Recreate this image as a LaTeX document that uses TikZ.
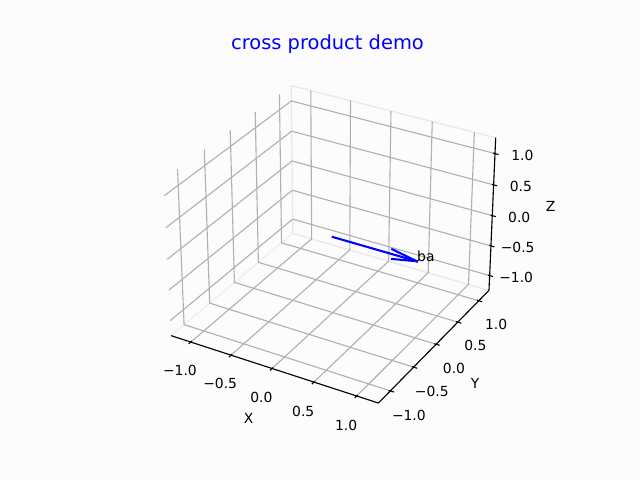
\documentclass[tikz,border=0pt]{standalone}
\usepackage{fontspec}
\setmainfont{DejaVu Sans}
\pgfkeys{/mpl/.cd, x/.store in=\mplx, y/.store in=\mply, z/.store in=\mplz}
\tikzdeclarecoordinatesystem{m}{%
  \pgfkeys{/mpl/.cd,x=0,y=0,z=0,#1}%
  \pgfmathsetmacro\mdx{(\mplx)*0.457143}%
  \pgfmathsetmacro\mdy{(\mply)*0.457143}%
  \pgfmathsetmacro\mdz{(\mplz)*0.342857}%
  \pgfmathsetmacro\mden{10-(0.433013*\mdx-0.75*\mdy+0.5*\mdz)}%
  \pgfmathsetmacro\mpx{332.8+2080*(0.866025*\mdx+0.5*\mdy)/\mden}%
  \pgfmathsetmacro\mpy{-237+2080*(-0.25*\mdx+0.433013*\mdy+0.866025*\mdz)/\mden}%
  \pgfpoint{\mpx pt}{\mpy pt}%
}
\definecolor{bgc}{gray}{0.99}
\definecolor{paneL}{gray}{0.99}
\definecolor{paneLe}{gray}{0.98}
\definecolor{paneB}{gray}{0.988}
\definecolor{paneBe}{gray}{0.91}
\definecolor{paneF}{gray}{0.988}
\definecolor{paneFe}{gray}{0.93}
\definecolor{gridc}{HTML}{B0B0B0}
\tikzset{
  gridline/.style={draw=gridc, line width=1.11pt},
  axline/.style={draw=black, line width=1.11pt},
  tickmark/.style={draw=black, line width=1.11pt},
  panefill/.style={line width=1.2pt, line join=round},
  ticklab/.style={font=\fontsize{13.89}{16}\selectfont, anchor=base, inner sep=0pt, yshift=-10.56pt},
  axlab/.style={font=\fontsize{13.89}{16}\selectfont, anchor=base, inner sep=0pt, yshift=-3.64pt},
  veclab/.style={font=\fontsize{13.89}{16}\selectfont, anchor=base west, inner sep=0pt},
  vec/.style={draw=blue, line width=2.08pt, line cap=rect},
  titlestyle/.style={font=\fontsize{19.44}{23}\selectfont, text=blue, anchor=base, inner sep=0pt}
}
\begin{document}
\begin{tikzpicture}
\path[use as bounding box, fill=bgc] (0pt,0pt) rectangle (640pt,-480pt);
% panes
\filldraw[panefill, fill=paneL, draw=paneLe] (m cs:x=-1.25,y=-1.25,z=-1.25) -- (m cs:x=-1.25,y=1.25,z=-1.25) -- (m cs:x=-1.25,y=1.25,z=1.25) -- (m cs:x=-1.25,y=-1.25,z=1.25) -- cycle;
\filldraw[panefill, fill=paneF, draw=paneFe] (m cs:x=-1.25,y=-1.25,z=-1.25) -- (m cs:x=1.25,y=-1.25,z=-1.25) -- (m cs:x=1.25,y=1.25,z=-1.25) -- (m cs:x=-1.25,y=1.25,z=-1.25) -- cycle;
\filldraw[panefill, fill=paneB, draw=paneBe] (m cs:x=-1.25,y=1.25,z=-1.25) -- (m cs:x=1.25,y=1.25,z=-1.25) -- (m cs:x=1.25,y=1.25,z=1.25) -- (m cs:x=-1.25,y=1.25,z=1.25) -- cycle;
% grid
\foreach \t in {-1,-0.5,0,0.5,1} {
  \draw[gridline] (m cs:x=\t,y=-1.25,z=-1.25) -- (m cs:x=\t,y=1.25,z=-1.25) -- (m cs:x=\t,y=1.25,z=1.25);
  \draw[gridline] (m cs:x=1.25,y=\t,z=-1.25) -- (m cs:x=-1.25,y=\t,z=-1.25) -- (m cs:x=-1.25,y=\t,z=1.25);
  \draw[gridline] (m cs:x=-1.25,y=-1.25,z=\t) -- (m cs:x=-1.25,y=1.25,z=\t) -- (m cs:x=1.25,y=1.25,z=\t);
}
% axis lines
\coordinate (c1) at (m cs:x=-1.25,y=-1.25,z=-1.25);
\coordinate (c2) at (m cs:x=1.25,y=-1.25,z=-1.25);
\coordinate (c3) at (m cs:x=1.25,y=1.25,z=-1.25);
\coordinate (c7) at (m cs:x=1.25,y=1.25,z=1.25);
\draw[axline] (c1) -- (c2);
\draw[axline] (c2) -- (c3);
\draw[axline] (c3) -- (c7);
% ticks and tick labels
\foreach \t/\s [count=\i] in {-1/−1.0,-0.5/−0.5,0/0.0,0.5/0.5,1/1.0} {
  \draw[tickmark] (m cs:x=\t,y=-1.2917,z=-1.25) -- (m cs:x=\t,y=-1.2292,z=-1.25);
  \draw[tickmark] (m cs:x=1.2917,y=\t,z=-1.25) -- (m cs:x=1.2292,y=\t,z=-1.25);
  \draw[tickmark] (m cs:x=1.2917,y=1.25,z=\t) -- (m cs:x=1.2292,y=1.25,z=\t);
  \node[ticklab] (xt\i) at (m cs:x=\t,y=-1.466,z=-1.466) {\s};
  \node[ticklab] (yt\i) at (m cs:x=1.466,y=\t,z=-1.466) {\s};
  \node[ticklab] (zt\i) at (m cs:x=1.466,y=1.466,z=\t) {\s};
}
% axis labels
\node[axlab] (xl) at (m cs:x=0,y=-1.7197,z=-1.7197) {X};
\node[axlab] (yl) at (m cs:x=1.7197,y=0,z=-1.7197) {Y};
\node[axlab] (zl) at (m cs:x=1.7197,y=1.7197,z=0) {Z};
% vector
\coordinate (o) at (m cs:x=0,y=0,z=0);
\coordinate (tip) at (m cs:x=1,y=0,z=0);
\coordinate (h1) at (m cs:x=0.7102,y=0,z=0.0776);
\coordinate (h2) at (m cs:x=0.7102,y=0,z=-0.0776);
\draw[vec] (o) -- (tip);
\draw[vec] (tip) -- (h1);
\draw[vec] (tip) -- (h2);
\node[veclab] (lb) at (tip) {b};
\node[veclab] (la) at (lb.base east) {a};
% title
\node[titlestyle] (title) at (327.5pt,-49.3pt) {cross product demo};
\end{tikzpicture}
\end{document}
